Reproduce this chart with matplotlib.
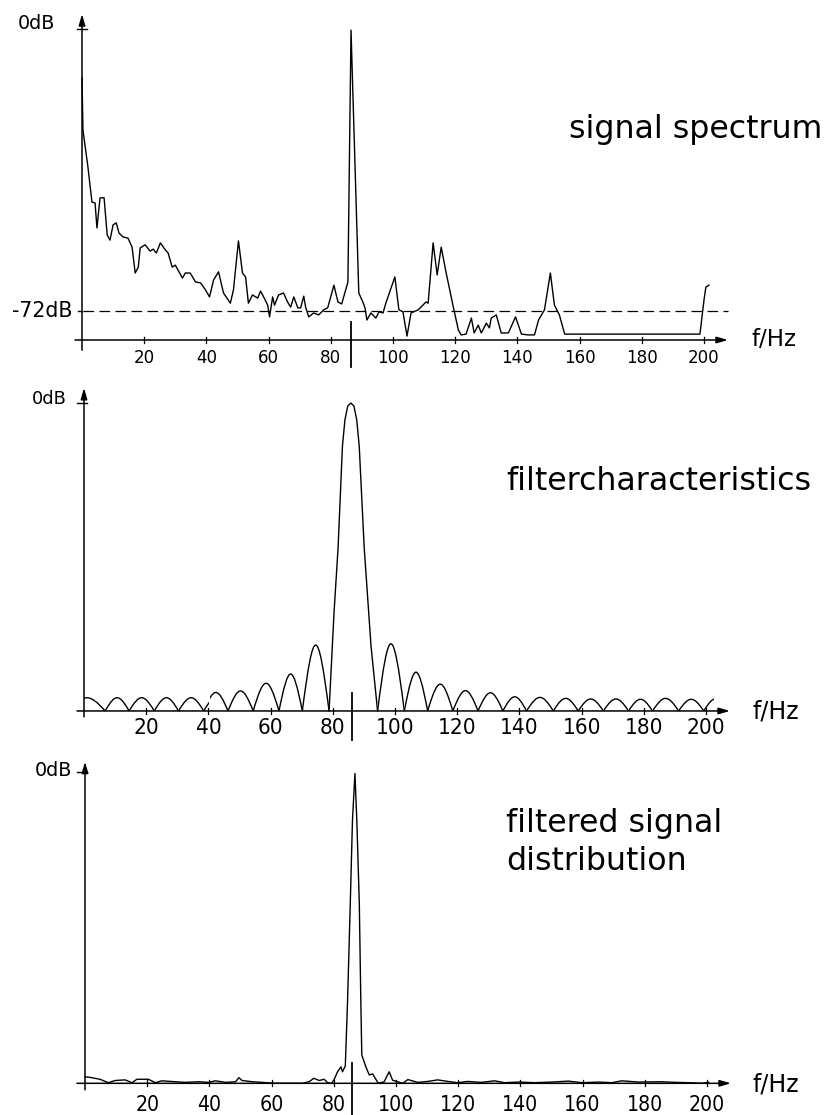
import matplotlib
matplotlib.use("Agg")
import matplotlib.pyplot as plt
from matplotlib import font_manager
from matplotlib.path import Path
from matplotlib.patches import PathPatch, Rectangle

# ---- top: signal spectrum (dB) ----
sig_f = [0, 0.3, 1.9, 3.2, 4.2, 4.8, 5.8, 7.1, 8.1, 9.0,
         10.0, 11.0, 11.9, 13.2, 14.8, 16.1, 17.1, 18.1, 18.7, 20.3,
         21.9, 22.9, 23.9, 25.2, 26.8, 27.7, 29.0, 30.0, 32.3, 33.2,
         34.8, 36.5, 38.1, 39.7, 41.0, 42.3, 43.9, 45.5, 47.7, 48.7,
         50.3, 51.6, 52.6, 53.5, 54.8, 56.5, 57.4, 58.4, 59.7, 60.3,
         61.3, 61.9, 63.2, 64.8, 66.1, 67.1, 68.1, 69.4, 70.3, 71.3,
         71.9, 72.9, 74.5, 76.1, 77.7, 79.0, 81.0, 82.3, 83.5, 85.5,
         86.5, 87.0, 89.0, 90.3, 91.0, 91.6, 92.9, 94.5, 95.5, 96.8,
         97.7, 100.6, 101.9, 103.2, 104.5, 105.8, 108.1, 110.6, 111.3, 112.9,
         114.2, 115.5, 117.1, 119.4, 121.0, 121.9, 123.5, 125.2, 126.1, 127.4,
         128.4, 130.0, 131.0, 131.6, 133.2, 134.8, 137.1, 139.4, 141.3, 143.5,
         145.5, 146.8, 148.7, 150.6, 151.9, 153.5, 155.2, 198.7, 200.0, 200.6,
         201.6]
sig_db = [-12.5, -25.8, -35.2, -44.2, -44.4, -50.8, -43.1, -43.1, -52.6, -53.9,
          -50.0, -49.5, -52.1, -53.1, -53.4, -55.7, -62.3, -60.8, -55.9, -55.1,
          -56.7, -56.2, -57.2, -54.6, -56.4, -57.2, -60.8, -60.3, -63.6, -62.3,
          -62.3, -64.6, -64.8, -66.6, -68.4, -64.1, -62.0, -67.4, -70.0, -66.6,
          -54.1, -62.3, -63.3, -70.0, -67.9, -68.7, -66.9, -68.4, -70.5, -73.5,
          -68.4, -70.5, -67.9, -67.4, -69.7, -71.0, -68.4, -71.2, -71.2, -68.2,
          -71.0, -73.5, -72.5, -73.0, -71.7, -71.2, -65.4, -69.7, -70.2, -64.6,
          -0.3, -13.8, -67.4, -69.7, -71.2, -74.3, -72.5, -73.8, -72.2, -72.5,
          -70.0, -63.3, -71.7, -72.2, -78.4, -72.5, -71.7, -69.7, -70.0, -54.6,
          -62.8, -55.7, -62.3, -71.0, -76.8, -78.1, -77.9, -73.8, -77.6, -75.6,
          -77.6, -75.1, -76.3, -73.8, -73.0, -77.6, -77.6, -73.5, -77.9, -78.1,
          -78.1, -74.3, -71.7, -62.3, -70.5, -73.0, -77.9, -77.9, -69.2, -65.9,
          -65.4]
ref_level_db = -72

# ---- middle: filter characteristics (1 = 0 dB) ----
main_f = [78.8, 80.4, 81.7, 83.1, 83.9, 84.8, 85.8, 86.8, 87.7, 88.5, 90.1, 92.3, 94.4]
main_v = [0, 0.32, 0.53, 0.86, 0.945, 0.99, 1.0, 0.99, 0.945, 0.86, 0.53, 0.21, 0]
# side lobes: zero to zero, peak height, visible part
lobe_lo = [-5.0, 6.8, 14.5, 22.6, 30.4, 38.5, 38.5, 46.3, 54.4, 62.7, 70.2,
           94.4, 103.0, 110.5, 118.6, 126.7, 134.7, 142.3, 150.9, 158.9, 167.0,
           175.1, 182.8, 191.2, 199.3]
lobe_hi = [6.8, 14.5, 22.6, 30.4, 38.5, 46.3, 46.3, 54.4, 62.7, 70.2, 78.8,
           103.0, 110.5, 118.6, 126.7, 134.7, 142.3, 150.9, 158.9, 167.0, 175.1,
           182.8, 191.2, 199.3, 207.0]
lobe_peak = [0.043, 0.043, 0.043, 0.043, 0.043, 0.043, 0.060, 0.065, 0.09, 0.12, 0.214,
             0.218, 0.126, 0.087, 0.066, 0.059, 0.046, 0.044, 0.041, 0.039, 0.039,
             0.038, 0.041, 0.038, 0.040]
lobe_from = [0, 6.8, 14.5, 22.6, 30.4, 38.5, 40.4, 46.3, 54.4, 62.7, 70.2,
             94.4, 103.0, 110.5, 118.6, 126.7, 134.7, 142.3, 150.9, 158.9, 167.0,
             175.1, 182.8, 191.2, 199.3]
lobe_to = [6.8, 14.5, 22.6, 30.4, 38.5, 40.1, 46.3, 54.4, 62.7, 70.2, 78.8,
           103.0, 110.5, 118.6, 126.7, 134.7, 142.3, 150.9, 158.9, 167.0, 175.1,
           182.8, 191.2, 199.3, 202.5]

# ---- bottom: filtered signal ----
fs_f = [0, 1.6, 4.8, 7.5, 9.7, 12.9, 15.1, 16.7, 20.4, 22.6,
        24.7, 29.0, 32.3, 36.6, 39.8, 41.9, 45.2, 48.4, 49.5, 50.5,
        53.8, 57.0, 61.3, 69.9, 72.0, 73.6, 75.3, 76.9, 78.0, 79.3,
        80.1, 81.2, 82.3, 82.8, 83.7, 84.4, 85.3, 86.0, 86.8, 87.4,
        88.2, 88.7, 89.0, 90.3, 91.4, 92.5, 94.3, 96.2, 97.8, 98.9,
        100.5, 102.2, 103.8, 107.0, 110.2, 113.4, 116.7, 119.9, 123.1, 127.4,
        131.7, 134.9, 139.5, 144.6, 150.0, 155.4, 160.0, 165.0, 169.4, 172.6,
        178.0, 185.0, 190.0, 194.1, 198.4, 200.5]
fs_v = [0.021, 0.019, 0.013, 0.002, 0.009, 0.011, 0.002, 0.013, 0.013, 0.002,
        0.008, 0.005, 0.003, 0.005, 0.003, 0.008, 0.003, 0.005, 0.018, 0.009,
        0.005, 0.003, 0.0, 0.0, 0.005, 0.016, 0.009, 0.013, 0.002, 0.0,
        0.012, 0.037, 0.053, 0.037, 0.056, 0.257, 0.578, 0.845, 0.995, 0.845,
        0.578, 0.257, 0.091, 0.053, 0.027, 0.03, 0.0, 0.005, 0.037, 0.01,
        0.005, 0.0, 0.012, 0.003, 0.006, 0.011, 0.006, 0.002, 0.006, 0.003,
        0.008, 0.002, 0.004, 0.002, 0.004, 0.007, 0.002, 0.004, 0.002, 0.008,
        0.004, 0.005, 0.003, 0.002, 0.0, 0.003]

freq_ticks = [20, 40, 60, 80, 100, 120, 140, 160, 180, 200]
centre_f = [86.4, 86.3, 85.9]
titles = ["signal spectrum", "filtercharacteristics", "filtered signal", "distribution"]

# tick digits are narrow in the original; use a narrow face if there is one
fonts = font_manager.fontManager.ttflist
narrow = dict(family="DejaVu Sans", fontstretch="normal")
tick_scale = 0.82
if any(f.name == "Liberation Sans Narrow" for f in fonts):
    narrow = dict(family="Liberation Sans Narrow")
    tick_scale = 1.0
elif any(f.name == "DejaVu Sans" and str(f.stretch) == "condensed" for f in fonts):
    narrow = dict(family="DejaVu Sans", fontstretch="condensed")
    tick_scale = 0.95
text_font = ["DejaVu Sans"]

fig = plt.figure(figsize=(8.26, 11.15), dpi=100)
ax1 = fig.add_axes([0, 0.6592, 1, 0.3408])
ax2 = fig.add_axes([0, 0.3274, 1, 0.3318])
ax3 = fig.add_axes([0, 0.0, 1, 0.3274])
ax1.set_xlim(-26.37, 239.23); ax1.set_ylim(-89.61, 7.40)
ax2.set_xlim(-27.01, 238.59); ax2.set_ylim(-0.1266, 1.0747)
ax3.set_xlim(-27.33, 238.26); ax3.set_ylim(-0.1018, 1.0707)
for ax in (ax1, ax2, ax3):
    ax.set_axis_off()

arrow = dict(arrowstyle="-|>,head_length=0.55,head_width=0.16", lw=1.1,
             color="k", shrinkA=0, shrinkB=0, mutation_scale=12)


def frame(ax, base, top, bottom, x0, tick_h, lab_y, lab_fs, mark_f, mark_y0, mark_y1):
    ax.annotate("", xy=(0, top), xytext=(0, bottom), arrowprops=arrow)
    ax.annotate("", xy=(207.7, base), xytext=(x0, base), arrowprops=arrow)
    for t in freq_ticks:
        ax.plot([t, t], [base - tick_h, base + tick_h], color="k", lw=0.9)
        ax.text(t, lab_y, str(t), ha="center", va="center",
                fontsize=lab_fs * tick_scale, **narrow)
    ax.plot([mark_f, mark_f], [mark_y0, mark_y1], color="k", lw=1.3)


# top panel
frame(ax1, -79.4, 3.8, -82.0, -2.25, 0.8, -84.0, 14, centre_f[0], -74.8, -86.3)
ax1.plot([-1.6, 1.6], [0, 0], color="k", lw=1.0)
ax1.plot([-1.4, 0], [ref_level_db, ref_level_db], color="k", lw=1.0)
ax1.plot([0.3, 207.7], [ref_level_db, ref_level_db], color="k", lw=0.9, dashes=(8.5, 4.3))
ax1.plot(sig_f, sig_db, color="k", lw=1.0)
ax1.text(-8.5, 1.5, "0dB", ha="right", va="center", fontsize=13.8, family=text_font)
ax1.text(-3.2, ref_level_db, "-72dB", ha="right", va="center", fontsize=14.8, family=text_font)
ax1.text(215.4, -79.4, "f/Hz", ha="left", va="center", fontsize=16.5, family=text_font)
ax1.text(156.6, -27.8, titles[0], ha="left", va="baseline", fontsize=22.8, family=text_font)

# middle panel
frame(ax2, 0, 1.049, -0.019, -2.25, 0.01, -0.055, 17, centre_f[1], 0.058, -0.094)
ax2.plot([-2.25, 1.0], [1.0, 1.0], color="k", lw=1.0)
ax2.plot(main_f, main_v, color="k", lw=1.0)
for lo, hi, pk, a, b in zip(lobe_lo, lobe_hi, lobe_peak, lobe_from, lobe_to):
    w = hi - lo
    verts = [(lo, 0), (lo + 0.4244 * w, pk * 4 / 3), (hi - 0.4244 * w, pk * 4 / 3), (hi, 0)]
    codes = [Path.MOVETO, Path.CURVE4, Path.CURVE4, Path.CURVE4]
    p = PathPatch(Path(verts, codes), fill=False, ec="k", lw=1.0)
    ax2.add_patch(p)
    p.set_clip_path(Rectangle((a, -0.5), b - a, 2, transform=ax2.transData))
ax2.text(-5.5, 1.013, "0dB", ha="right", va="center", fontsize=12.8, family=text_font)
ax2.text(215.1, -0.003, "f/Hz", ha="left", va="center", fontsize=17, family=text_font)
ax2.text(135.7, 0.718, titles[1], ha="left", va="baseline", fontsize=22.8, family=text_font)

# bottom panel
frame(ax3, 0, 1.033, -0.021, -2.6, 0.01, -0.070, 16, centre_f[2], 0.065, -0.102)
ax3.plot([-2.6, 0.6], [1.0, 1.0], color="k", lw=1.0)
ax3.plot(fs_f, fs_v, color="k", lw=1.0)
ax3.text(-4.2, 1.006, "0dB", ha="right", va="center", fontsize=13.8, family=text_font)
ax3.text(214.5, -0.005, "f/Hz", ha="left", va="center", fontsize=17, family=text_font)
ax3.text(135.4, 0.807, titles[2], ha="left", va="baseline", fontsize=22.8, family=text_font)
ax3.text(135.4, 0.685, titles[3], ha="left", va="baseline", fontsize=22.8, family=text_font)

fig.savefig("out.png", dpi=100)
